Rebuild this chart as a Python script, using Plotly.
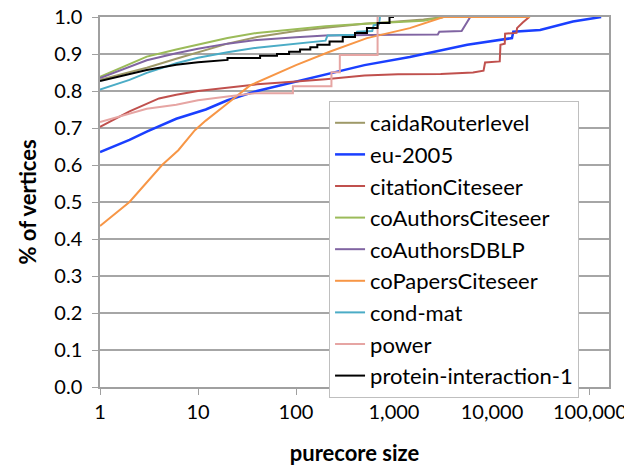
import numpy as np
import plotly.graph_objects as go

# purecore size (x) vs cumulative fraction of vertices (y)
caida_x = [1, 2, 3, 6, 10, 20, 40, 100, 200, 500, 1000, 2000, 3200]
caida_y = [0.830, 0.850, 0.863, 0.887, 0.905, 0.928, 0.946, 0.962, 0.971, 0.982, 0.987, 0.993, 1.0]

eu_x = [1, 2, 3, 6, 12, 20, 40, 100, 220, 500, 1450, 3000, 5600, 16000, 16500, 31000, 67000, 130000]
eu_y = [0.635, 0.668, 0.690, 0.725, 0.750, 0.775, 0.800, 0.825, 0.848, 0.870, 0.892, 0.910, 0.925, 0.943, 0.960, 0.965, 0.988, 1.0]

citation_x = [1, 2, 4, 6, 10, 20, 40, 100, 200, 500, 1100, 3000, 6400, 8200, 8500, 12000, 12200,
              13500, 13600, 17800, 18000, 20600, 24000]
citation_y = [0.703, 0.745, 0.780, 0.790, 0.800, 0.810, 0.818, 0.826, 0.832, 0.842, 0.845, 0.846, 0.850,
              0.855, 0.877, 0.880, 0.925, 0.928, 0.955, 0.957, 0.970, 0.985, 1.0]

coauth_cs_x = [1, 2, 3, 6, 10, 20, 40, 100, 200, 500, 1000, 2000, 3200]
coauth_cs_y = [0.838, 0.872, 0.893, 0.912, 0.925, 0.943, 0.957, 0.968, 0.975, 0.982, 0.986, 0.990, 1.0]

dblp_x = [1, 2, 3, 6, 10, 20, 40, 100, 200, 1000, 2800, 2900, 4900, 6000]
dblp_y = [0.835, 0.865, 0.883, 0.902, 0.914, 0.928, 0.938, 0.945, 0.950, 0.952, 0.953, 0.960, 0.962, 1.0]

copapers_x = [1, 2, 4.3, 6.3, 9.3, 12, 18, 34, 100, 220, 530, 1450, 3200, 24500]
copapers_y = [0.435, 0.500, 0.600, 0.640, 0.694, 0.720, 0.757, 0.815, 0.870, 0.906, 0.943, 0.970, 1.0, 1.0]

condmat_x = [1, 2, 3, 6, 10, 20, 40, 100, 200, 210, 400, 420, 600, 620, 700, 720]
condmat_y = [0.804, 0.830, 0.849, 0.875, 0.890, 0.905, 0.917, 0.928, 0.936, 0.950, 0.952, 0.960, 0.962, 0.978, 0.980, 1.0]

power_x = [1, 2, 3, 6, 10, 20, 38, 93, 93, 230, 230, 280, 280, 680, 680]
power_y = [0.716, 0.740, 0.752, 0.763, 0.775, 0.785, 0.794, 0.794, 0.813, 0.813, 0.851, 0.851, 0.897, 0.897, 1.0]

protein_x = [1, 2, 3, 6, 10, 20, 20, 43, 43, 64, 64, 85, 85, 110, 110, 140, 140, 165, 165,
             220, 220, 300, 300, 400, 400, 530, 530, 680, 680, 900, 900, 1000]
protein_y = [0.827, 0.846, 0.857, 0.871, 0.878, 0.884, 0.889, 0.889, 0.895, 0.895, 0.900, 0.900, 0.906,
             0.906, 0.912, 0.912, 0.918, 0.918, 0.925, 0.925, 0.934, 0.934, 0.946, 0.946, 0.957, 0.957,
             0.970, 0.970, 0.984, 0.984, 1.0, 1.0]

series = [
    ("caidaRouterlevel", caida_x, caida_y, "#9E9968", 2),
    ("eu-2005", eu_x, eu_y, "#1A3FFF", 2.5),
    ("citationCiteseer", citation_x, citation_y, "#C0504D", 2),
    ("coAuthorsCiteseer", coauth_cs_x, coauth_cs_y, "#9BBB59", 2),
    ("coAuthorsDBLP", dblp_x, dblp_y, "#8064A2", 2),
    ("coPapersCiteseer", copapers_x, copapers_y, "#F79646", 2),
    ("cond-mat", condmat_x, condmat_y, "#4BACC6", 2),
    ("power", power_x, power_y, "#E6A5A3", 2),
    ("protein-interaction-1", protein_x, protein_y, "black", 2),
]

x_tickvals = [1, 10, 100, 1000, 10000, 100000]
x_ticktext = ["1", "10", "100", "1,000", "10,000", "100,000"]

fig = go.Figure()

for name, xs, ys, color, width in series:
    fig.add_trace(
        go.Scatter(
            x=xs,
            y=ys,
            mode="lines",
            name=name,
            line=dict(color=color, width=width),
        )
    )

# the page body adds an 8px offset, so margins are shifted to compensate
fig.update_layout(
    width=632,
    height=468,
    margin=dict(l=92, r=31, t=9, b=89),
    paper_bgcolor="white",
    plot_bgcolor="white",
    font=dict(family="Lato", size=20, color="black"),
    showlegend=True,
    legend=dict(
        x=0.45,
        y=0.773,
        xanchor="left",
        yanchor="top",
        bgcolor="white",
        bordercolor="#BFBFBF",
        borderwidth=1,
        font=dict(size=22),
        itemwidth=30,
    ),
    xaxis=dict(
        type="log",
        range=[0, 5.194],
        tickvals=x_tickvals,
        ticktext=x_ticktext,
        ticks="outside",
        ticklen=6,
        tickcolor="#A0A0A0",
        ticklabeloverflow="allow",
        showline=True,
        linecolor="#A0A0A0",
        linewidth=1.5,
        mirror=True,
        showgrid=False,
        zeroline=False,
        automargin=False,
        title=dict(text="<b>purecore size</b>", font=dict(size=22), standoff=24),
    ),
    yaxis=dict(
        range=[0, 1.0],
        dtick=0.1,
        tickformat=".1f",
        ticks="outside",
        ticklen=6,
        tickcolor="#A0A0A0",
        ticklabelstandoff=6,
        ticklabeloverflow="allow",
        showline=True,
        linecolor="#A0A0A0",
        linewidth=1.5,
        mirror=True,
        showgrid=True,
        gridcolor="#A6A6A6",
        gridwidth=1.5,
        zeroline=False,
        automargin=False,
        title=dict(text="<b>% of vertices</b>", font=dict(size=22), standoff=12),
    ),
)

fig.write_html("out.html")
